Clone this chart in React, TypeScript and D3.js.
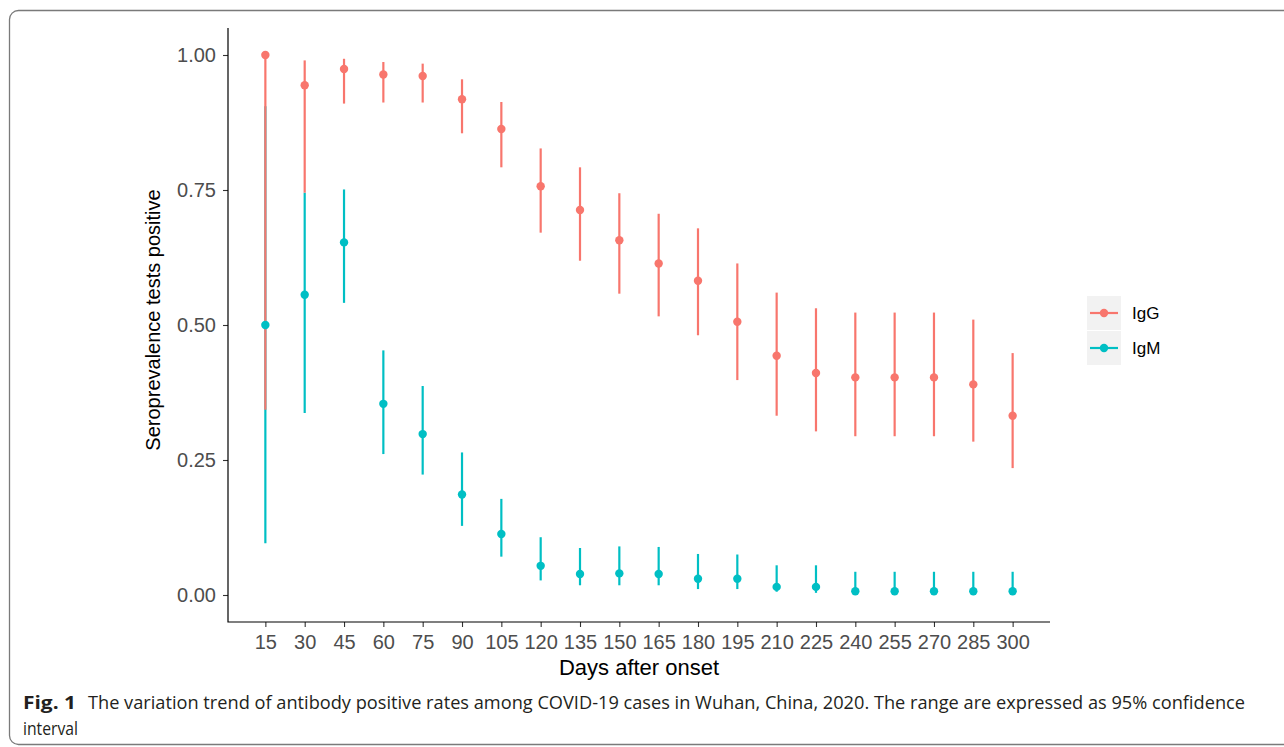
import React, { useRef, useEffect } from "react";
import * as d3 from "d3";

const days = [15, 30, 45, 60, 75, 90, 105, 120, 135, 150, 165, 180, 195, 210, 225, 240, 255, 270, 285, 300];

const iggRate = [1.0, 0.944, 0.974, 0.964, 0.961, 0.918, 0.863, 0.757, 0.713, 0.657, 0.614, 0.582, 0.506, 0.443, 0.411, 0.403, 0.403, 0.403, 0.39, 0.332];
const iggLow = [0.343, 0.745, 0.91, 0.912, 0.912, 0.855, 0.792, 0.671, 0.619, 0.558, 0.516, 0.481, 0.398, 0.332, 0.303, 0.294, 0.294, 0.294, 0.284, 0.235];
const iggHigh = [1.0, 0.99, 0.993, 0.987, 0.984, 0.955, 0.913, 0.827, 0.792, 0.744, 0.706, 0.679, 0.614, 0.56, 0.531, 0.523, 0.523, 0.523, 0.51, 0.448];

const igmRate = [0.5, 0.556, 0.653, 0.354, 0.298, 0.186, 0.113, 0.054, 0.039, 0.04, 0.039, 0.03, 0.03, 0.015, 0.015, 0.007, 0.007, 0.007, 0.007, 0.007];
const igmLow = [0.096, 0.337, 0.541, 0.261, 0.223, 0.128, 0.071, 0.027, 0.018, 0.018, 0.018, 0.011, 0.011, 0.006, 0.004, 0.0, 0.0, 0.0, 0.0, 0.0];
const igmHigh = [0.905, 0.745, 0.751, 0.453, 0.387, 0.264, 0.178, 0.107, 0.087, 0.09, 0.089, 0.076, 0.075, 0.055, 0.055, 0.043, 0.043, 0.043, 0.043, 0.043];

const yTicks = [0, 0.25, 0.5, 0.75, 1.0];
const groups = ["IgG", "IgM"];
const colors = { IgG: "#F8766D", IgM: "#00BFC4" };

const App = () => {
  const svgRef = useRef(null);

  useEffect(() => {
    const svg = d3.select(svgRef.current);
    svg.selectAll("*").remove();

    const x = d3.scaleLinear().domain([0.75, 314.25]).range([228, 1050]);
    const y = d3.scaleLinear().domain([-0.05, 1.05]).range([622, 28]);
    const font = "Liberation Sans, Arial, sans-serif";

    // outer figure frame
    svg
      .append("rect")
      .attr("x", 9.5)
      .attr("y", 10.5)
      .attr("width", 1300)
      .attr("height", 734)
      .attr("rx", 9)
      .attr("fill", "none")
      .attr("stroke", "#7a7a7a")
      .attr("stroke-width", 1.3);

    // IgM rows first so the IgG ranges sit on top, as in the original
    const rows = [
      ...days.map((d, i) => ({ g: "IgM", day: d, v: igmRate[i], lo: igmLow[i], hi: igmHigh[i] })),
      ...days.map((d, i) => ({ g: "IgG", day: d, v: iggRate[i], lo: iggLow[i], hi: iggHigh[i] })),
    ];

    svg
      .append("g")
      .selectAll("line")
      .data(rows)
      .enter()
      .append("line")
      .attr("x1", (d) => x(d.day))
      .attr("x2", (d) => x(d.day))
      .attr("y1", (d) => y(d.lo))
      .attr("y2", (d) => y(d.hi))
      .attr("stroke", (d) => colors[d.g])
      .attr("stroke-width", 2.2);

    svg
      .append("g")
      .selectAll("circle")
      .data(rows)
      .enter()
      .append("circle")
      .attr("cx", (d) => x(d.day))
      .attr("cy", (d) => y(d.v))
      .attr("r", 4.2)
      .attr("fill", (d) => colors[d.g]);

    // axes
    const yAxis = svg
      .append("g")
      .attr("transform", "translate(228,0)")
      .call(d3.axisLeft(y).tickValues(yTicks).tickFormat(d3.format(".2f")).tickSize(5).tickPadding(7));
    const xAxis = svg
      .append("g")
      .attr("transform", "translate(0,622)")
      .call(d3.axisBottom(x).tickValues(days).tickFormat((d) => String(d)).tickSize(5).tickPadding(8));

    [xAxis, yAxis].forEach((ax) => {
      ax.select(".domain").remove();
      ax.attr("font-size", null).attr("font-family", null);
      ax.selectAll(".tick line").attr("stroke", "#333").attr("stroke-width", 1.1);
      ax.selectAll(".tick text")
        .attr("fill", "#4d4d4d")
        .style("font-family", font)
        .style("font-size", "20px");
    });

    svg
      .append("path")
      .attr("d", `M228,28V622H1050`)
      .attr("fill", "none")
      .attr("stroke", "#000")
      .attr("stroke-width", 1.2);

    svg
      .append("text")
      .attr("x", 639)
      .attr("y", 675)
      .attr("text-anchor", "middle")
      .style("font-family", font)
      .style("font-size", "22px")
      .text("Days after onset");

    svg
      .append("text")
      .attr("transform", "translate(160,320) rotate(-90)")
      .attr("text-anchor", "middle")
      .style("font-family", font)
      .style("font-size", "20px")
      .text("Seroprevalence tests positive");

    // legend
    const legend = svg.append("g").attr("transform", "translate(1087,296)");
    groups.forEach((g, i) => {
      const row = legend.append("g").attr("transform", `translate(0,${i * 35})`);
      row.append("rect").attr("width", 34).attr("height", 34).attr("fill", "#f2f2f2");
      row
        .append("line")
        .attr("x1", 3)
        .attr("x2", 31)
        .attr("y1", 17)
        .attr("y2", 17)
        .attr("stroke", colors[g])
        .attr("stroke-width", 2.2);
      row.append("circle").attr("cx", 17).attr("cy", 17).attr("r", 4.2).attr("fill", colors[g]);
      row
        .append("text")
        .attr("x", 45)
        .attr("y", 23)
        .style("font-family", font)
        .style("font-size", "17px")
        .text(g);
    });

    // caption
    const cap = svg
      .append("g")
      .style("font-family", "Open Sans, Noto Sans, sans-serif")
      .style("font-size", "18.5px")
      .attr("fill", "#231f20");
    cap
      .append("text")
      .attr("x", 23)
      .attr("y", 709)
      .attr("font-weight", "bold")
      .attr("textLength", 53)
      .attr("lengthAdjust", "spacingAndGlyphs")
      .text("Fig. 1");
    cap
      .append("text")
      .attr("x", 88)
      .attr("y", 709)
      .attr("textLength", 1157)
      .attr("lengthAdjust", "spacingAndGlyphs")
      .text(
        "The variation trend of antibody positive rates among COVID-19 cases in Wuhan, China, 2020. The range are expressed as 95% confidence"
      );
    cap
      .append("text")
      .attr("x", 23)
      .attr("y", 735)
      .attr("textLength", 55)
      .attr("lengthAdjust", "spacingAndGlyphs")
      .text("interval");
  }, []);

  return (
    <svg
      ref={svgRef}
      width={1284}
      height={747}
      style={{ position: "absolute", left: 0, top: 0, background: "#fff" }}
    ></svg>
  );
};

export default App;
